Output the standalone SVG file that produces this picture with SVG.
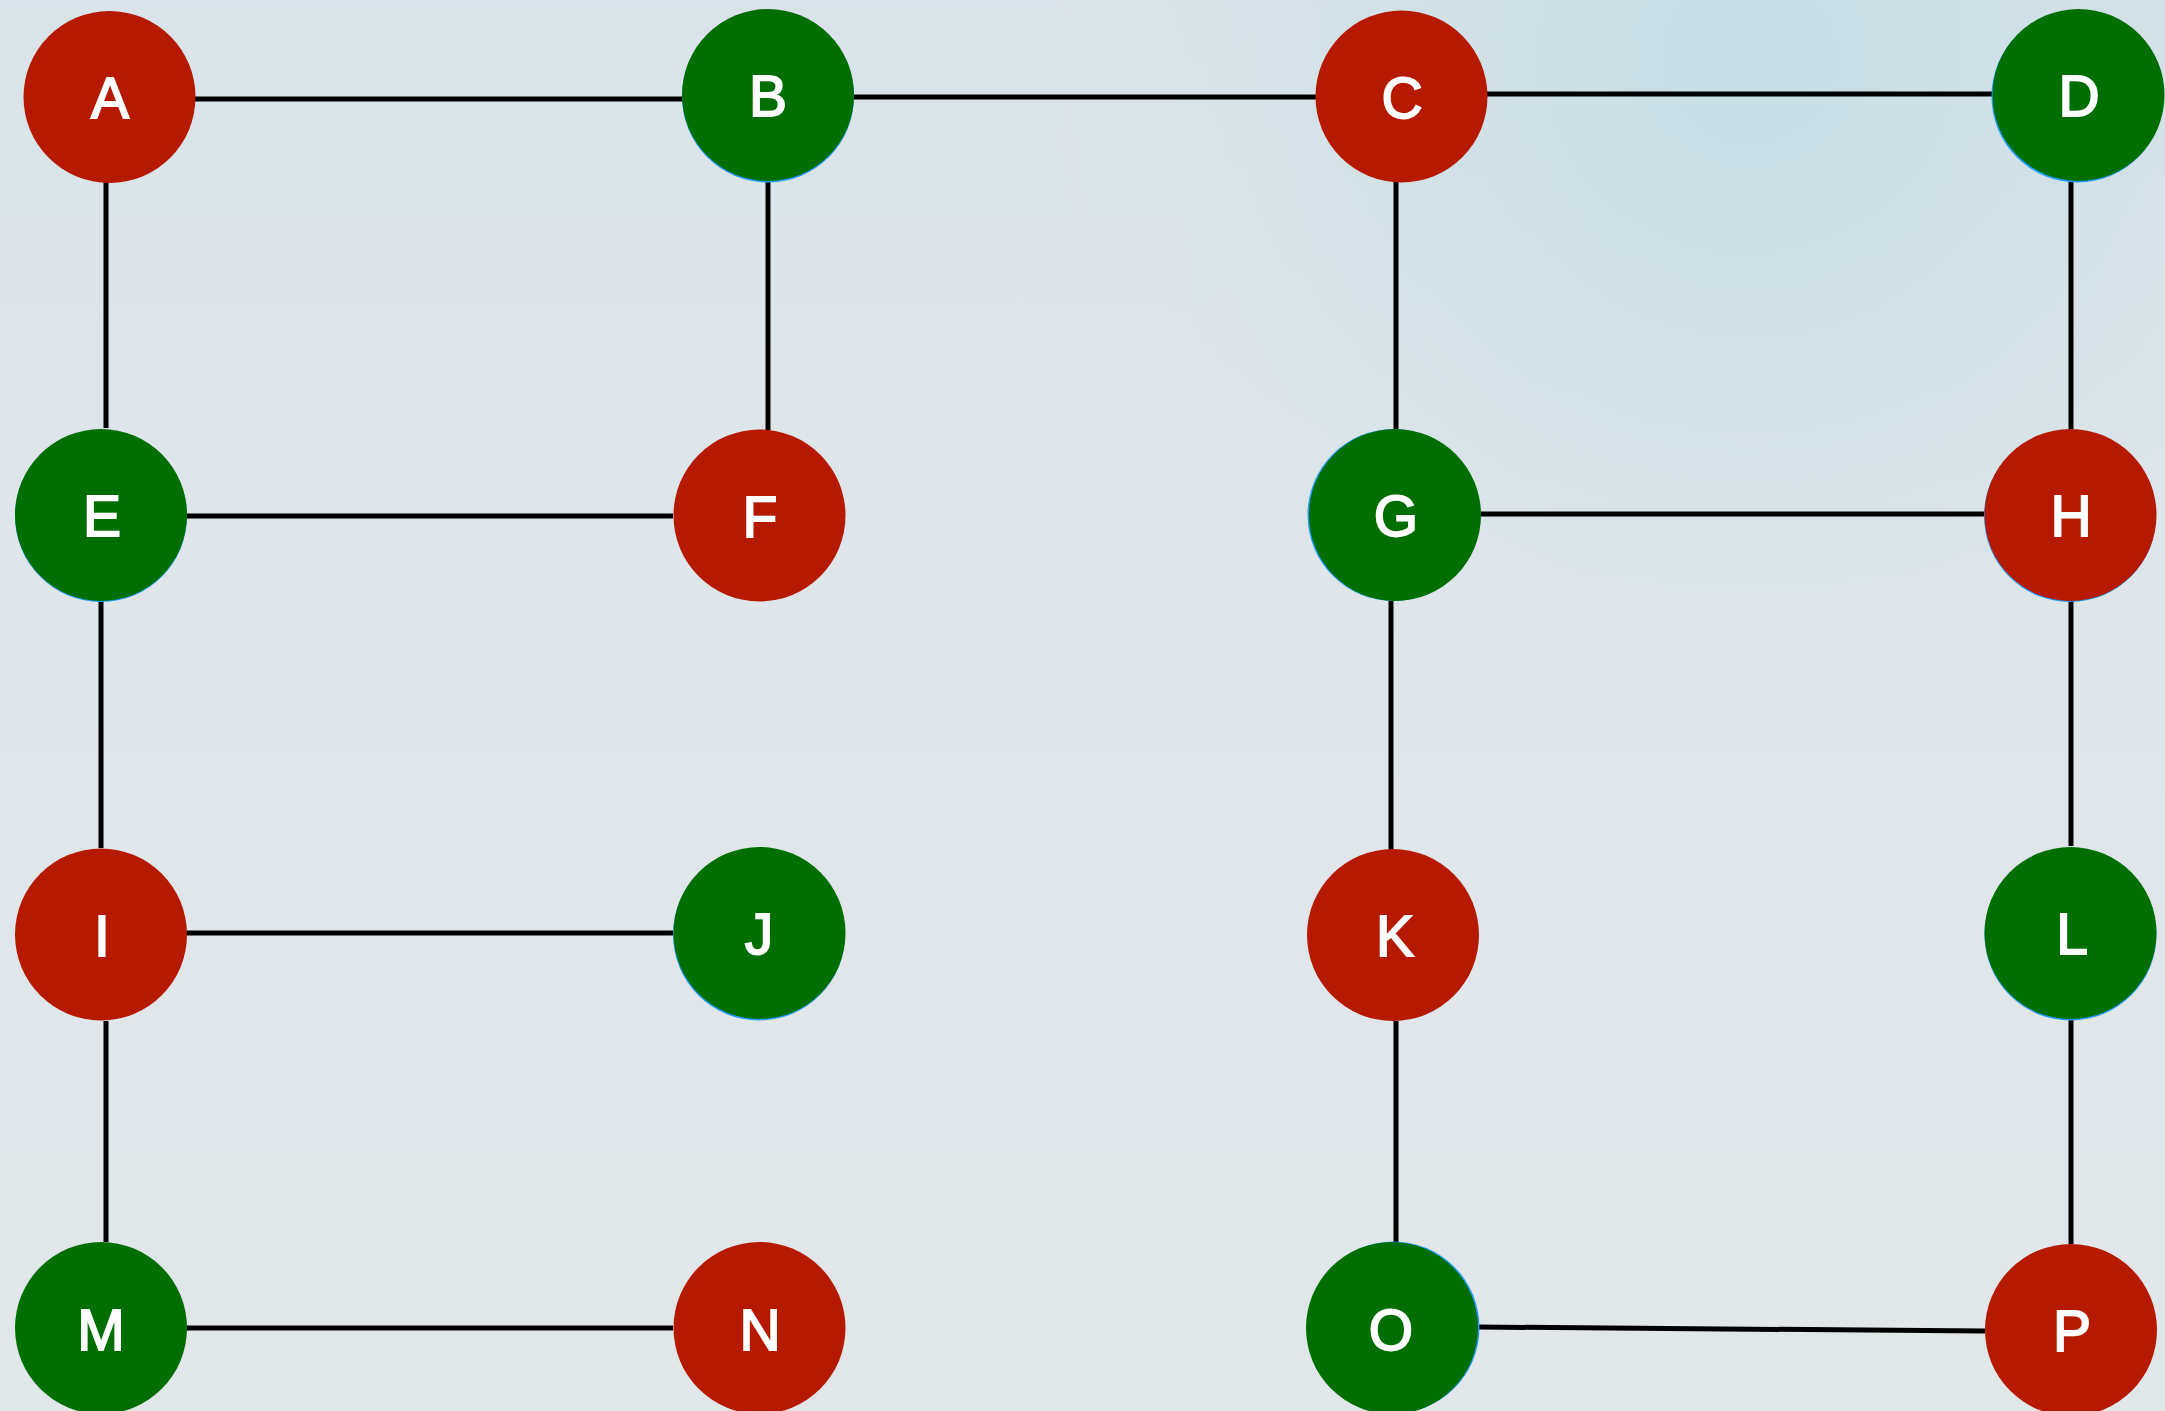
<svg xmlns="http://www.w3.org/2000/svg" width="2165" height="1411" viewBox="0 0 2165 1411">
  <defs>
    <linearGradient id="bg" x1="0" y1="0" x2="0" y2="1">
      <stop offset="0" stop-color="#d9e3e9"/>
      <stop offset="0.45" stop-color="#dfe6ea"/>
      <stop offset="1" stop-color="#e1e6e9"/>
    </linearGradient>
    <radialGradient id="glow" cx="1750" cy="60" r="700" gradientUnits="userSpaceOnUse">
      <stop offset="0" stop-color="#c4dde4" stop-opacity="0.95"/>
      <stop offset="0.6" stop-color="#cfe0e6" stop-opacity="0.5"/>
      <stop offset="1" stop-color="#dde5ea" stop-opacity="0"/>
    </radialGradient>
    <style>
      .edge { stroke: #000; stroke-width: 5; fill: none; }
      .red { fill: #b51a00; }
      .green { fill: #006e00; }
      .rim { fill: #1f9bff; }
      .lbl { fill: #fff; stroke: #fff; stroke-width: 1.8; stroke-linejoin: miter; font-family: "Liberation Sans", Arial, sans-serif; font-size: 57px; text-anchor: middle; }
    </style>
  </defs>

  <rect width="2165" height="1411" fill="url(#bg)"/>
  <rect width="2165" height="1411" fill="url(#glow)"/>

  <!-- connectors -->
  <g id="edges">
    <line class="edge" x1="195" y1="99" x2="683" y2="99"/>
    <line class="edge" x1="853" y1="97" x2="1316" y2="97"/>
    <line class="edge" x1="1487" y1="94" x2="1994" y2="94"/>
    <line class="edge" x1="106" y1="182" x2="106" y2="428"/>
    <line class="edge" x1="768" y1="181" x2="768" y2="430"/>
    <line class="edge" x1="1396" y1="182" x2="1396" y2="429"/>
    <line class="edge" x1="2071" y1="180" x2="2071" y2="429"/>
    <line class="edge" x1="186" y1="516" x2="673" y2="516"/>
    <line class="edge" x1="1481" y1="514" x2="1985" y2="514"/>
    <line class="edge" x1="101" y1="601" x2="101" y2="848"/>
    <line class="edge" x1="1391" y1="601" x2="1391" y2="850"/>
    <line class="edge" x1="2071" y1="601" x2="2071" y2="846"/>
    <line class="edge" x1="186" y1="933" x2="673" y2="933"/>
    <line class="edge" x1="106" y1="1021" x2="106" y2="1242"/>
    <line class="edge" x1="1396" y1="1021" x2="1396" y2="1243"/>
    <line class="edge" x1="2071" y1="1020" x2="2071" y2="1244"/>
    <line class="edge" x1="186" y1="1328" x2="673" y2="1328"/>
    <line class="edge" x1="1478" y1="1327" x2="1985" y2="1331"/>
  </g>

  <!-- nodes -->
  <g id="node-A"><circle class="red" cx="109.5" cy="97" r="86"/><text class="lbl" x="110" y="118">A</text></g>
  <g id="node-B"><circle class="rim" cx="768" cy="96.5" r="86"/><circle class="green" cx="768" cy="95" r="86"/><text class="lbl" x="768" y="116">B</text></g>
  <g id="node-C"><circle class="red" cx="1401.5" cy="96.5" r="86"/><text class="lbl" x="1402" y="118">C</text></g>
  <g id="node-D"><circle class="rim" cx="2077.5" cy="96.5" r="86"/><circle class="green" cx="2078.5" cy="95" r="86"/><text class="lbl" x="2079" y="116">D</text></g>

  <g id="node-E"><circle class="rim" cx="101" cy="516" r="86"/><circle class="green" cx="101" cy="515" r="86"/><text class="lbl" x="102" y="536">E</text></g>
  <g id="node-F"><circle class="red" cx="759.5" cy="515.5" r="86"/><text class="lbl" x="760" y="537">F</text></g>
  <g id="node-G"><circle class="rim" cx="1393.5" cy="515" r="86"/><circle class="green" cx="1395" cy="515" r="86"/><text class="lbl" x="1396" y="536">G</text></g>
  <g id="node-H"><circle class="rim" cx="2070" cy="516" r="86"/><circle class="red" cx="2070.5" cy="515" r="86"/><text class="lbl" x="2071" y="536">H</text></g>

  <g id="node-I"><circle class="red" cx="101" cy="934.5" r="86"/><text class="lbl" x="102" y="956">I</text></g>
  <g id="node-J"><circle class="rim" cx="759" cy="934.5" r="86"/><circle class="green" cx="759.5" cy="933" r="86"/><text class="lbl" x="759" y="954">J</text></g>
  <g id="node-K"><circle class="red" cx="1393" cy="935" r="86"/><text class="lbl" x="1395" y="956">K</text></g>
  <g id="node-L"><circle class="rim" cx="2070.5" cy="934.5" r="86"/><circle class="green" cx="2070.5" cy="933" r="86"/><text class="lbl" x="2072" y="954">L</text></g>

  <g id="node-M"><circle class="green" cx="101" cy="1328" r="86"/><text class="lbl" x="101" y="1350">M</text></g>
  <g id="node-N"><circle class="red" cx="759.5" cy="1328" r="86"/><text class="lbl" x="760" y="1350">N</text></g>
  <g id="node-O"><circle class="rim" cx="1393.5" cy="1327.5" r="86"/><circle class="green" cx="1392" cy="1328" r="86"/><text class="lbl" x="1391" y="1350">O</text></g>
  <g id="node-P"><circle class="red" cx="2071" cy="1330" r="86"/><text class="lbl" x="2072" y="1351">P</text></g>
</svg>
